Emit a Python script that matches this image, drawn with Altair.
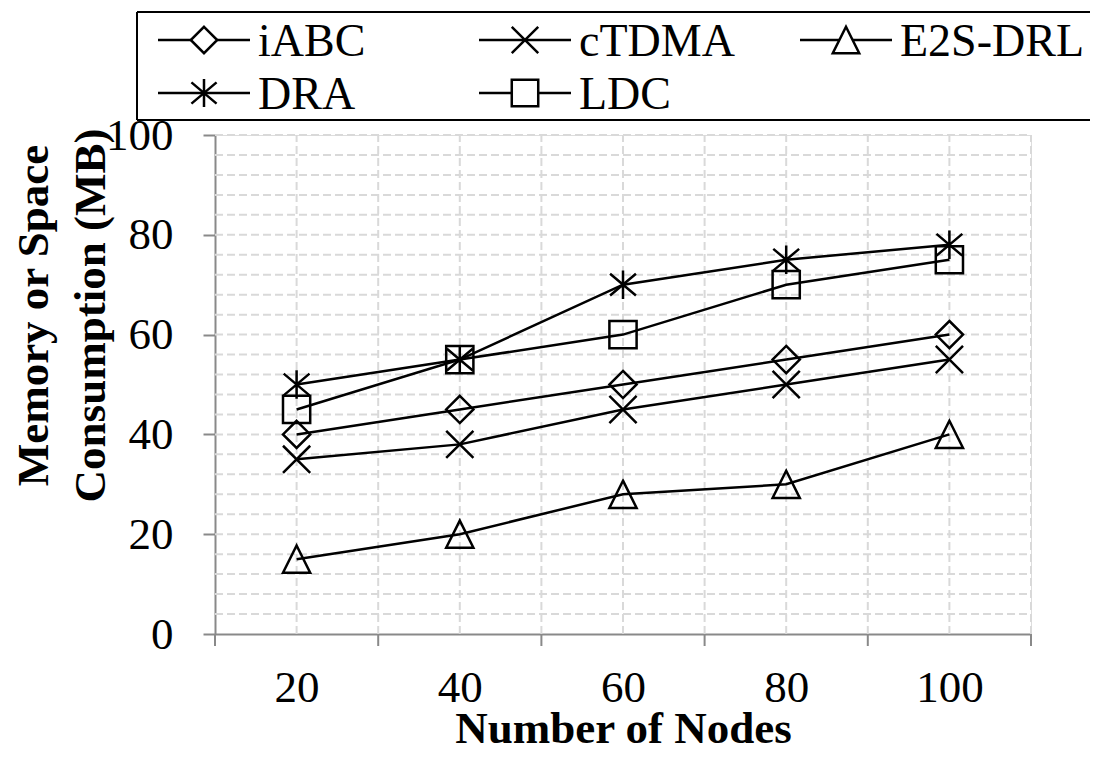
import altair as alt
import pandas as pd

# ---- data ----
nodes = [20, 40, 60, 80, 100]
series_names = ["iABC", "cTDMA", "E2S-DRL", "DRA", "LDC"]
iABC = [40, 45, 50, 55, 60]
cTDMA = [35, 38, 45, 50, 55]
E2S_DRL = [15, 20, 28, 30, 40]
DRA = [50, 55, 70, 75, 78]
LDC = [45, 55, 60, 70, 75]

y_ticks = [0, 20, 40, 60, 80, 100]
y_grid = list(range(4, 101, 4))
x_grid = [20, 30, 40, 50, 60, 70, 80, 90, 100, 110]
x_bounds = [10, 30, 50, 70, 90, 110]

shape_paths = [
    "M0,-1L1,0L0,1L-1,0Z",                                   # diamond
    "M-1,-1L1,1M-1,1L1,-1",                                  # X
    "M0,-1L1,1L-1,1Z",                                       # triangle
    "M0,-1.05L0,1.05M-0.95,-0.8L0.95,0.8M-0.95,0.8L0.95,-0.8",  # asterisk
    "M-1,-1L1,-1L1,1L-1,1Z",                                 # square
]

FONT = "Liberation Serif"
W, H = 816, 499

values = [iABC, cTDMA, E2S_DRL, DRA, LDC]
rows = []
for name, vals in zip(series_names, values):
    for n, v in zip(nodes, vals):
        rows.append({"series": name, "nodes": n, "value": v})
df = pd.DataFrame(rows)

shape_scale = alt.Scale(domain=series_names, range=shape_paths)

x_enc = alt.X("nodes:Q", scale=alt.Scale(domain=[10, 110], nice=False, zero=False),
              axis=alt.Axis(values=nodes, title="Number of Nodes", ticks=False, tickSize=0,
                            grid=False, domainColor="#898989", domainWidth=2,
                            labelFont=FONT, labelFontSize=45, labelColor="black",
                            labelPadding=31, labelBaseline="top",
                            titleFont=FONT, titleFontSize=45, titleFontWeight="bold",
                            titleColor="black", titleX=408, titleY=108,
                            titleBaseline="alphabetic", titleAlign="center"))
y_enc = alt.Y("value:Q", scale=alt.Scale(domain=[0, 100], nice=False),
              axis=alt.Axis(values=y_ticks, title=["Memory or Space", "Consumption (MB)"],
                            grid=False, tickSize=12, tickColor="#898989", tickWidth=2,
                            domainColor="#898989", domainWidth=2,
                            labelFont=FONT, labelFontSize=45, labelColor="black",
                            labelPadding=30,
                            titleFont=FONT, titleFontSize=45, titleFontWeight="bold",
                            titleColor="black", titleAngle=270, titleAlign="center",
                            titleBaseline="middle", titleX=-182, titleY=180,
                            titleLineHeight=57))

grid_h = alt.Chart(pd.DataFrame({"value": y_grid})).mark_rule(
    color="#d9d9d9", strokeWidth=2, strokeDash=[8, 4]
).encode(y="value:Q", x=alt.datum(10), x2=alt.datum(110))

grid_v = alt.Chart(pd.DataFrame({"nodes": x_grid})).mark_rule(
    color="#d9d9d9", strokeWidth=2, strokeDash=[8, 4]
).encode(x="nodes:Q", y=alt.datum(0), y2=alt.datum(100))

x_ticks = alt.Chart(pd.DataFrame({"nodes": x_bounds})).mark_rule(
    color="#898989", strokeWidth=2
).encode(x="nodes:Q", y=alt.value(H), y2=alt.value(H + 12))

lines = alt.Chart(df).mark_line(color="black", strokeWidth=2.5).encode(
    x=x_enc, y=y_enc, detail="series:N"
)

points = alt.Chart(df).mark_point(
    filled=False, color="black", stroke="black", strokeWidth=2.5, size=740, opacity=1
).encode(
    x="nodes:Q", y="value:Q",
    shape=alt.Shape("series:N", scale=shape_scale, legend=None),
)

# ---- legend (drawn in pixel space) ----
leg_rows = []
for i, name in enumerate(series_names):
    col, row = i % 3, i // 3
    lx = -11 + col * 321
    ly = -95 + row * 53
    leg_rows.append({"series": name, "lx": lx, "ly": ly,
                     "sx1": lx - 46, "sx2": lx + 46, "tx": lx + 54})
leg = pd.DataFrame(leg_rows)

box = pd.DataFrame({
    "bx": [-78, -78, -78], "bx2": [880, 880, -78],
    "by": [-123, -15, -123], "by2": [-123, -15, -15],
})
leg_box = alt.Chart(box).mark_rule(color="black", strokeWidth=2).encode(
    x=alt.X("bx:Q", scale=None, axis=None), x2="bx2:Q",
    y=alt.Y("by:Q", scale=None, axis=None), y2="by2:Q",
)
leg_stub = alt.Chart(leg).mark_rule(color="black", strokeWidth=2.5).encode(
    x=alt.X("sx1:Q", scale=None, axis=None), x2="sx2:Q",
    y=alt.Y("ly:Q", scale=None, axis=None),
)
leg_sym = alt.Chart(leg).mark_point(
    filled=True, fill="white", stroke="black", strokeWidth=2.5, size=700, opacity=1
).encode(
    x=alt.X("lx:Q", scale=None, axis=None),
    y=alt.Y("ly:Q", scale=None, axis=None),
    shape=alt.Shape("series:N", scale=shape_scale, legend=None),
)
leg_text = alt.Chart(leg).mark_text(
    font=FONT, fontSize=46, color="black", align="left", baseline="middle", dy=2
).encode(
    x=alt.X("tx:Q", scale=None, axis=None),
    y=alt.Y("ly:Q", scale=None, axis=None),
    text="series:N",
)

chart = alt.layer(
    grid_h, grid_v, lines, points, x_ticks, leg_box, leg_stub, leg_sym, leg_text
).properties(
    width=W, height=H,
    autosize=alt.AutoSizeParams(type="none"),
    padding={"left": 207, "top": 127, "right": 59, "bottom": 118},
).configure_view(strokeWidth=0).configure(background="white")

chart.save("out.html", embed_options={"renderer": "svg", "actions": False})
